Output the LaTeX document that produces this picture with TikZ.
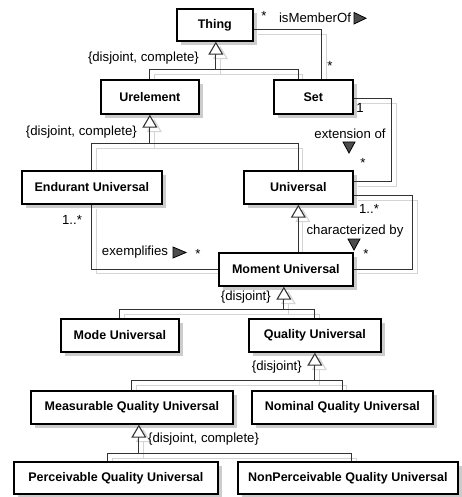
\documentclass[tikz,border=0pt]{standalone}
\usepackage{fontspec}
\setmainfont{Liberation Sans}
\usetikzlibrary{arrows.meta,calc,shadows}
\pgfdeclarelayer{bg}
\pgfdeclarelayer{fg}
\pgfsetlayers{bg,main,fg}
\newcommand\conn[2][]{%
  \begin{pgfonlayer}{bg}\begin{scope}[transform canvas={shift={(4.5pt,-4.5pt)}}]\draw[#1,shadowline]#2;\end{scope}\end{pgfonlayer}%
  \begin{pgfonlayer}{fg}\draw[#1,conline]#2;\end{pgfonlayer}}
\begin{document}
\begin{tikzpicture}[x=1pt,y=-1pt,
  box/.style={draw, line width=1.7pt, fill=white, inner sep=0pt, anchor=north west,
    font=\bfseries\fontsize{12.5}{14}\selectfont,
    drop shadow={shadow xshift=4.5pt,shadow yshift=-4.5pt,fill=black!20,opacity=1}},
  lab/.style={font=\fontsize{13.2}{15}\selectfont, inner sep=0pt},
  conline/.style={draw=black!80, line width=1.1pt},
  shadowline/.style={draw=black!17, line width=1.1pt},
  gen/.style={-{Triangle[length=13pt,width=15pt,fill=white,line width=1.1pt]}},
  dirmark/.style={draw=black, fill=black!70, line width=0.8pt, line join=miter}]
\useasboundingbox (0,0) rectangle (462,497);

% boxes
\node[box, minimum width=76pt, minimum height=32pt] (thing) at (176,8) {Thing};
\node[box, minimum width=98pt, minimum height=34pt] (urel) at (100,79) {Urelement};
\node[box, minimum width=79pt, minimum height=34pt] (set) at (273,79) {Set};
\node[box, minimum width=140pt, minimum height=33pt] (endur) at (21,170) {Endurant Universal};
\node[box, minimum width=109pt, minimum height=33pt] (univ) at (243,170) {Universal};
\node[box, minimum width=134pt, minimum height=33pt] (moment) at (218,252) {Moment Universal};
\node[box, minimum width=118pt, minimum height=33pt] (mode) at (60,318) {Mode Universal};
\node[box, minimum width=132pt, minimum height=33pt] (quality) at (248,318) {Quality Universal};
\node[box, minimum width=202pt, minimum height=33pt] (meas) at (30,390) {Measurable Quality Universal};
\node[box, minimum width=181pt, minimum height=33pt] (nominal) at (251,390) {Nominal Quality Universal};
\node[box, minimum width=204pt, minimum height=32pt] (perc) at (13,461) {Perceivable Quality Universal};
\node[box, minimum width=220pt, minimum height=32pt] (nonperc) at (237,461) {NonPerceivable Quality Universal};

% generalization Thing
\coordinate (j1) at ($(thing.south)+(1,28)$);
\coordinate (setin) at ($(set.north)+(-15,0)$);
\conn{(urel.north) |- (j1) -| (setin)}
\conn[gen]{(j1) -- (thing.south -| j1)}
\node[lab, anchor=east] (l1) at (199,58) {\{disjoint, complete\}};

% generalization Urelement
\coordinate (j2) at ($(urel.south)+(0,29)$);
\conn{(endur.north) |- (j2) -| (univ.north)}
\conn[gen]{(j2) -- (urel.south)}
\node[lab, anchor=east] (l2) at (137,132) {\{disjoint, complete\}};

% generalization Universal
\conn[gen]{(moment.north -| univ.south) -- (univ.south)}

% generalization Moment Universal
\coordinate (j3) at ($(moment.south)+(-2,23)$);
\conn{(mode.north) |- (j3) -| (quality.north)}
\conn[gen]{(j3) -- (moment.south -| j3)}
\node[lab, anchor=east] (l3) at (271,297) {\{disjoint\}};

% generalization Quality Universal
\coordinate (j4) at ($(quality.south)+(0,28)$);
\conn{(meas.north) |- (j4) -| (nominal.north)}
\conn[gen]{(j4) -- (quality.south)}
\node[lab, anchor=east] (l4) at (302,367) {\{disjoint\}};

% generalization Measurable
\coordinate (mout) at ($(meas.south)+(7,0)$);
\coordinate (j5) at ($(mout)+(0,29)$);
\coordinate (pin) at ($(perc.north)+(-8,0)$);
\coordinate (npin) at ($(nonperc.north)+(4,0)$);
\conn{(pin) |- (j5) -| (npin)}
\conn[gen]{(j5) -- (mout)}
\node[lab, anchor=west] (l5) at (148,439) {\{disjoint, complete\}};

% isMemberOf
\coordinate (a1s) at ($(thing.east)+(0,5)$);
\coordinate (a1e) at ($(set.north)+(8.5,0)$);
\conn{(a1s) -| (a1e)}
\node[lab] (m1) at (264,16) {*};
\node[lab] (t1) at (315,18) {isMemberOf};
\node[lab] (m2) at (330,66) {*};
\begin{pgfonlayer}{fg}
\filldraw[dirmark] (354,12.5) -- (354,24) -- (366,18.25) -- cycle;
\end{pgfonlayer}

% extension of
\coordinate (a2s) at ($(set.east)+(0,2)$);
\coordinate (a2e) at ($(univ.east)+(0,-5.5)$);
\conn{(a2s) -- ++(38,0) |- (a2e)}
\node[lab] (m3) at (360,108) {1};
\node[lab] (t2) at (350,134) {extension of};
\node[lab] (m4) at (363,163) {*};
\begin{pgfonlayer}{fg}
\filldraw[dirmark] (343,142) -- (355,142) -- (349,153) -- cycle;
\end{pgfonlayer}

% characterized by
\coordinate (a3s) at ($(univ.east)+(0,8.5)$);
\conn{(a3s) -- ++(59,0) |- (moment.east)}
\node[lab] (m5) at (369,209) {1..*};
\node[lab] (t3) at (355,231) {characterized by};
\node[lab] (m6) at (366,254) {*};
\begin{pgfonlayer}{fg}
\filldraw[dirmark] (348,239) -- (360,239) -- (354,250) -- cycle;
\end{pgfonlayer}

% exemplifies
\conn{(endur.south) |- (moment.west)}
\node[lab] (m7) at (72,220) {1..*};
\node[lab] (t4) at (135,252) {exemplifies};
\node[lab] (m8) at (198,254) {*};
\begin{pgfonlayer}{fg}
\filldraw[dirmark] (173,247) -- (173,258) -- (186,252.5) -- cycle;
\end{pgfonlayer}
\end{tikzpicture}
\end{document}
